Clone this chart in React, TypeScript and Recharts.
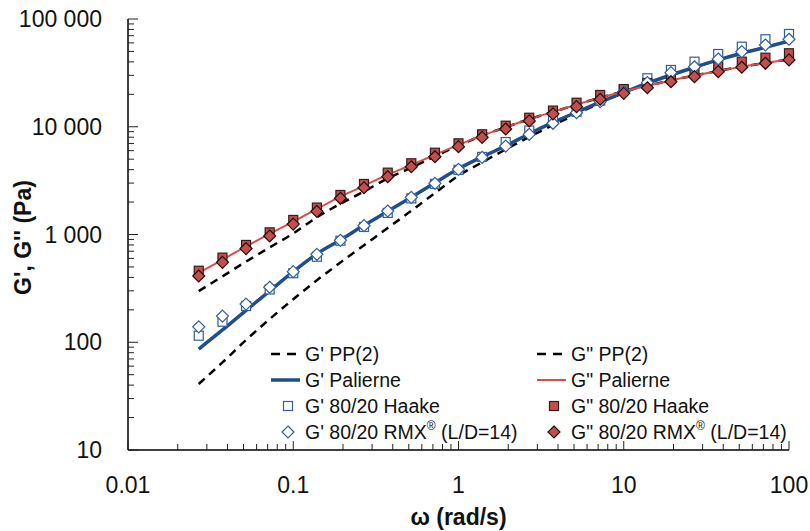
import React from "react";
import { ComposedChart, Line, XAxis, YAxis, Legend } from "recharts";

// angular frequency (rad/s), 7 points per decade
const omega = [
  0.0268, 0.0373, 0.0518, 0.072, 0.1, 0.139, 0.193, 0.268, 0.373, 0.518, 0.72, 1, 1.39,
  1.93, 2.68, 3.73, 5.18, 7.2, 10, 13.9, 19.3, 26.8, 37.3, 51.8, 72, 100,
];

// model curves (Pa)
const gpPP = [
  41, 65, 105, 164, 251, 376, 550, 794, 1148, 1660, 2427, 3508, 4677, 6166, 8035, 10350,
  13120, 16670, 20797, 25410, 30200, 35645, 41687, 48084, 54576, 62520,
];
const gppPP = [
  298, 409, 560, 759, 1023, 1445, 1928, 2512, 3311, 4169, 5309, 6699, 8279, 9886, 11750,
  13740, 16030, 18620, 21280, 23990, 26920, 29850, 32960, 36140, 39080, 42170,
];
const gpPalierne = [
  86.5, 130, 198, 299, 452, 661, 891, 1216, 1641, 2213, 3020, 4074, 5248, 6637, 8610, 10965,
  13646, 16904, 20797, 25410, 30200, 35645, 41687, 48084, 54576, 62520,
];
const gppPalierne = [
  440, 582, 776, 1012, 1318, 1726, 2249, 2831, 3589, 4416, 5495, 6792, 8279, 9886, 11750,
  13740, 16030, 18620, 21280, 23990, 26920, 29850, 32960, 36140, 39080, 42170,
];

// measurements (Pa)
const gpHaake = [
  115, 155, 217, 309, 437, 622, 875, 1175, 1585, 2163, 2951, 3981, 5248, 7211, 9226, 11480,
  13800, 17460, 21880, 28180, 33650, 40180, 47320, 55340, 64860, 72610,
];
const gppHaake = [
  461, 610, 800, 1047, 1365, 1778, 2328, 2944, 3750, 4581, 5741, 7015, 8511, 10230, 12130,
  14130, 16710, 19720, 22390, 25470, 28180, 33110, 36310, 40180, 43750, 48080,
];
const gpRMX = [
  139, 175, 226, 324, 452, 655, 883, 1208, 1652, 2213, 2985, 4025, 5200, 6620, 8510, 10770,
  13490, 17100, 21130, 25640, 31760, 36060, 42540, 49770, 57390, 64900,
];
const gppRMX = [
  412, 552, 740, 968, 1250, 1641, 2168, 2716, 3436, 4256, 5272, 6531, 7980, 9528, 11320,
  13180, 15350, 17990, 20420, 23010, 26180, 29170, 32430, 35650, 38820, 41690,
];

const yMajor = [10, 100, 1000, 10000, 100000];
const yTickLabels = ["10", "100", "1 000", "10 000", "100 000"];
const xMajor = [0.01, 0.1, 1, 10, 100];
const xTickLabels = ["0.01", "0.1", "1", "10", "100"];

const withMinors = (majors: number[]) => {
  const out: number[] = [];
  majors.forEach((d, i) => {
    out.push(d);
    if (i < majors.length - 1) for (let m = 2; m <= 9; m++) out.push(d * m);
  });
  return out;
};

const rows = omega.map((w, i) => ({
  w,
  gpPP: gpPP[i],
  gppPP: gppPP[i],
  gpPalierne: gpPalierne[i],
  gppPalierne: gppPalierne[i],
  gpHaake: gpHaake[i],
  gppHaake: gppHaake[i],
  gpRMX: gpRMX[i],
  gppRMX: gppRMX[i],
}));

const FONT = "'Liberation Sans', Arial, sans-serif";
const BLUE = "#1f4e8c";
const BLUE_MK = "#2f5f9f";
const RED = "#d4504c";
const RED_FILL = "#c0504d";

const YTick = (props: any) => {
  const { x, y, payload } = props;
  const i = yMajor.indexOf(payload.value);
  return (
    <g>
      <line x1={x} x2={x + (i >= 0 ? 10 : 6)} y1={y} y2={y} stroke="#222" strokeWidth={1} />
      {i >= 0 && (
        <text x={x - 26} y={y} textAnchor="end" dominantBaseline="central" fontFamily={FONT} fontSize={23} fill="#111">
          {yTickLabels[i]}
        </text>
      )}
    </g>
  );
};

const XTick = (props: any) => {
  const { x, y, payload } = props;
  const i = xMajor.indexOf(payload.value);
  return (
    <g>
      <line x1={x} x2={x} y1={y} y2={y - (i >= 0 ? 9 : 6)} stroke="#222" strokeWidth={1} />
      {i >= 0 && (
        <text x={x} y={y + 35} textAnchor="middle" dominantBaseline="central" fontFamily={FONT} fontSize={23} fill="#111">
          {xTickLabels[i]}
        </text>
      )}
    </g>
  );
};

const Square = ({ cx, cy, fill, stroke, k }: any) => (
  <rect key={k} x={cx - 4.5} y={cy - 4.5} width={9} height={9} fill={fill} stroke={stroke} strokeWidth={1.2} />
);
const Diamond = ({ cx, cy, fill, stroke, k }: any) => (
  <path
    key={k}
    d={`M${cx},${cy - 6}L${cx + 6},${cy}L${cx},${cy + 6}L${cx - 6},${cy}Z`}
    fill={fill}
    stroke={stroke}
    strokeWidth={1.2}
  />
);

const legendRows = [
  { l: "G' PP(2)", r: 'G" PP(2)', kind: "dash" },
  { l: "G' Palierne", r: 'G" Palierne', kind: "line" },
  { l: "G' 80/20 Haake", r: 'G" 80/20 Haake', kind: "square" },
  { l: "G' 80/20 RMX", r: 'G" 80/20 RMX', kind: "diamond" },
];

const LegendBox = () => (
  <svg width={540} height={110} style={{ display: "block" }}>
    {legendRows.map((row, i) => {
      const cy = 13 + i * 26;
      const cols = [
        { x0: 9, text: row.l, prime: true },
        { x0: 275, text: row.r, prime: false },
      ];
      return cols.map((c) => {
        let icon: React.ReactNode = null;
        if (row.kind === "dash")
          icon = <line x1={c.x0} x2={c.x0 + 29} y1={cy} y2={cy} stroke="#000" strokeWidth={2.5} strokeDasharray="9 7" />;
        if (row.kind === "line")
          icon = <line x1={c.x0} x2={c.x0 + 29} y1={cy} y2={cy} stroke={c.prime ? BLUE : RED} strokeWidth={c.prime ? 3.5 : 2} />;
        if (row.kind === "square")
          icon = c.prime ? (
            <Square cx={c.x0 + 17} cy={cy} fill="#fff" stroke={BLUE_MK} />
          ) : (
            <Square cx={c.x0 + 17} cy={cy} fill={RED_FILL} stroke="#3a1a1a" />
          );
        if (row.kind === "diamond")
          icon = c.prime ? (
            <Diamond cx={c.x0 + 17} cy={cy} fill="#fff" stroke={BLUE_MK} />
          ) : (
            <Diamond cx={c.x0 + 17} cy={cy} fill={RED_FILL} stroke="#2a0a0a" />
          );
        return (
          <g key={`${i}-${c.x0}`}>
            {icon}
            <text x={c.x0 + 34} y={cy} dominantBaseline="central" fontFamily={FONT} fontSize={19.5} fill="#111">
              {c.text}
              {row.kind === "diamond" && (
                <>
                  <tspan fontSize={12} dy={-6}>®</tspan>
                  <tspan dy={6}> (L/D=14)</tspan>
                </>
              )}
            </text>
          </g>
        );
      });
    })}
  </svg>
);

export default function App() {
  return (
    <div style={{ position: "absolute", left: 0, top: 0, width: 810, height: 531, background: "#fff" }}>
      <ComposedChart width={810} height={531} data={rows} margin={{ top: 19, right: 21, left: 0, bottom: 0 }}>
        <XAxis
          dataKey="w"
          type="number"
          scale="log"
          domain={[0.01, 100]}
          ticks={withMinors(xMajor)}
          interval={0}
          height={81}
          tickSize={0}
          tickMargin={0}
          tickLine={false}
          tick={<XTick />}
          axisLine={{ stroke: "#000", strokeWidth: 1.5 }}
          label={{
            content: (p: any) => (
              <text
                x={p.viewBox.x + p.viewBox.width / 2}
                y={p.viewBox.y + 67}
                textAnchor="middle"
                dominantBaseline="central"
                fontFamily={FONT}
                fontWeight="bold"
                fontSize={23}
                fill="#111"
              >
                ω (rad/s)
              </text>
            ),
          }}
        />
        <XAxis
          xAxisId="top"
          orientation="top"
          type="number"
          scale="log"
          domain={[0.01, 100]}
          height={0}
          tick={false}
          tickLine={false}
          axisLine={{ stroke: "#404040", strokeWidth: 1.5 }}
        />
        <YAxis
          type="number"
          scale="log"
          domain={[10, 100000]}
          ticks={withMinors(yMajor)}
          interval={0}
          width={128}
          tickSize={0}
          tickMargin={0}
          tickLine={false}
          tick={<YTick />}
          axisLine={{ stroke: "#000", strokeWidth: 1.5 }}
          label={{
            content: (p: any) => {
              const cy = p.viewBox.y + p.viewBox.height / 2 + 3;
              return (
                <text
                  x={23}
                  y={cy}
                  transform={`rotate(-90, 23, ${cy})`}
                  textAnchor="middle"
                  dominantBaseline="central"
                  fontFamily={FONT}
                  fontWeight="bold"
                  fontSize={23}
                  fill="#111"
                >
                  G', G'' (Pa)
                </text>
              );
            },
          }}
        />
        <YAxis
          yAxisId="right"
          orientation="right"
          type="number"
          scale="log"
          domain={[10, 100000]}
          width={0}
          tick={false}
          tickLine={false}
          axisLine={{ stroke: "#868686", strokeWidth: 1.5 }}
        />

        <Line dataKey="gpPP" type="monotone" stroke="#000" strokeWidth={2.5} strokeDasharray="8 6" dot={false} activeDot={false} isAnimationActive={false} />
        <Line dataKey="gppPP" type="monotone" stroke="#000" strokeWidth={2.5} strokeDasharray="8 6" dot={false} activeDot={false} isAnimationActive={false} />
        <Line dataKey="gpPalierne" type="monotone" stroke={BLUE} strokeWidth={3.5} dot={false} activeDot={false} isAnimationActive={false} />
        <Line dataKey="gppPalierne" type="monotone" stroke={RED} strokeWidth={2} dot={false} activeDot={false} isAnimationActive={false} />

        <Line
          dataKey="gpHaake"
          stroke="none"
          activeDot={false}
          isAnimationActive={false}
          dot={(p: any) => <Square k={`a${p.index}`} cx={p.cx} cy={p.cy} fill="#fff" stroke={BLUE_MK} />}
        />
        <Line
          dataKey="gppHaake"
          stroke="none"
          activeDot={false}
          isAnimationActive={false}
          dot={(p: any) => <Square k={`b${p.index}`} cx={p.cx} cy={p.cy} fill={RED_FILL} stroke="#3a1a1a" />}
        />
        <Line
          dataKey="gpRMX"
          stroke="none"
          activeDot={false}
          isAnimationActive={false}
          dot={(p: any) => <Diamond k={`c${p.index}`} cx={p.cx} cy={p.cy} fill="#fff" stroke={BLUE_MK} />}
        />
        <Line
          dataKey="gppRMX"
          stroke="none"
          activeDot={false}
          isAnimationActive={false}
          dot={(p: any) => <Diamond k={`d${p.index}`} cx={p.cx} cy={p.cy} fill={RED_FILL} stroke="#2a0a0a" />}
        />

        <Legend
          layout="horizontal"
          verticalAlign="middle"
          align="center"
          wrapperStyle={{ left: 262, top: 341, width: 540, height: 110 }}
          content={() => <LegendBox />}
        />
      </ComposedChart>
    </div>
  );
}
